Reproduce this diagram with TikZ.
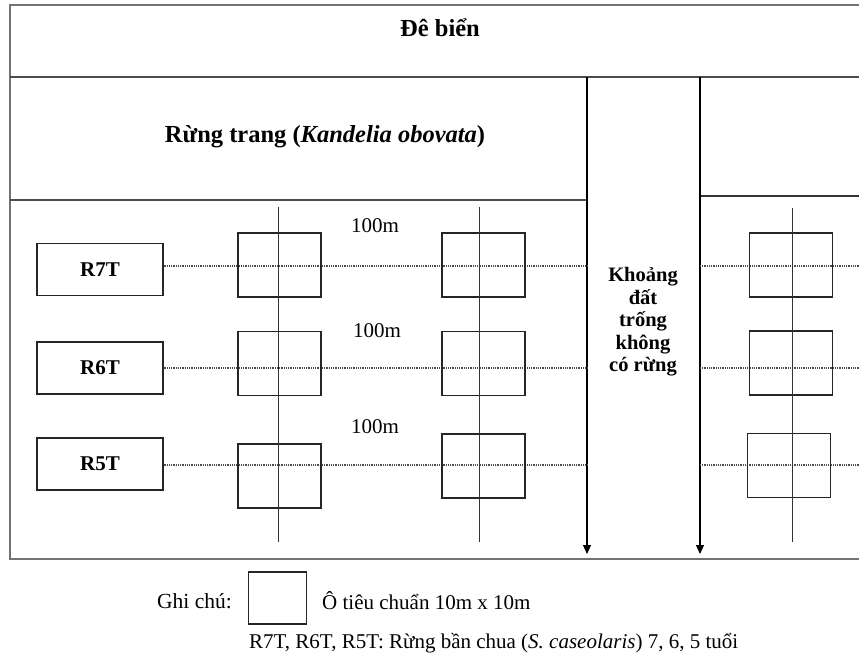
\documentclass[tikz,border=0pt]{standalone}
\usepackage{fontspec}
\setmainfont{Liberation Serif}
\usetikzlibrary{arrows.meta}
\tikzset{
  frameline/.style={draw=black!55, line width=1.6pt},
  thickline/.style={draw=black!70, line width=2.6pt},
  thinline/.style={draw=black!80, line width=1.2pt},
  gridline/.style={draw=black!80, line width=1pt},
  dotline/.style={draw=black!70, line width=1.1pt, dash pattern=on 1pt off 0.8pt},
  plot/.style={draw=black!85, line width=1.3pt, minimum width=83pt, minimum height=64pt, inner sep=0pt},
  rbox/.style={draw=black!85, line width=1.2pt, minimum width=126pt, minimum height=52pt, inner sep=0pt, font=\fontsize{21}{24}\selectfont\bfseries},
  lbl/.style={font=\fontsize{21}{24}\selectfont, inner sep=0pt},
  arr/.style={draw=black, line width=1.1pt, -{Triangle[width=8pt,length=9pt]}}
}
\begin{document}
\begin{tikzpicture}[x=1pt,y=-1pt]
\useasboundingbox (0,0) rectangle (859,661);
% frame
\coordinate (fTL) at (10,5);
\coordinate (fTR) at (859,5);
\coordinate (fBL) at (10,559);
\coordinate (fBR) at (859,559);
\draw[frameline] (fTR) -- (fTL) -- (fBL) -- (fBR);
% thick separators
\coordinate (s1L) at (10,77);
\coordinate (s1R) at (859,77);
\draw[thickline] (s1L) -- (s1R);
\coordinate (s2L) at (10,200);
\coordinate (s2R) at (587,200);
\draw[thickline] (s2L) -- (s2R);
\coordinate (s3L) at (700,196);
\coordinate (s3R) at (859,196);
\draw[thinline] (s3L) -- (s3R);
% titles
\node[font=\fontsize{24.5}{28}\selectfont\bfseries] (debien) at (440,28) {Đê biển};
\node[font=\fontsize{24.5}{28}\selectfont\bfseries] (rtrang) at (325,137) {Rừng trang (\textit{Kandelia obovata})};
% arrows
\coordinate (a1s) at (587,77);
\coordinate (a1e) at (587,554);
\coordinate (a2s) at (700,77);
\coordinate (a2e) at (700,554);
\draw[arr] (a1s) -- (a1e);
\draw[arr] (a2s) -- (a2e);
\node[font=\fontsize{20.5}{22.5}\selectfont\bfseries, align=center] (gap) at (643,322) {Khoảng\\đất\\trống\\không\\có rừng};
% vertical grid lines
\coordinate (v1t) at (278,207); \coordinate (v1b) at (278,542);
\coordinate (v2t) at (479,207); \coordinate (v2b) at (479,542);
\coordinate (v3t) at (792,208); \coordinate (v3b) at (792,542);
% row boxes
\node[rbox] (r7) at (100,269.5) {R7T};
\node[rbox] (r6) at (100,368) {R6T};
\node[rbox] (r5) at (100,464) {R5T};
% dotted lines
\coordinate (d7a) at (587,266); \coordinate (d7b) at (700,266); \coordinate (d7c) at (859,266);
\coordinate (d6a) at (587,368); \coordinate (d6b) at (700,368); \coordinate (d6c) at (859,368);
\coordinate (d5a) at (587,465); \coordinate (d5b) at (700,465); \coordinate (d5c) at (859,465);
\draw[dotline] (r7.east |- d7a) -- (d7a);
\draw[dotline] (r6.east |- d6a) -- (d6a);
\draw[dotline] (r5.east |- d5a) -- (d5a);
\draw[dotline] (d7b) -- (d7c);
\draw[dotline] (d6b) -- (d6c);
\draw[dotline] (d5b) -- (d5c);
% plots
\node[plot] (p71) at (279.5,265) {};
\node[plot] (p72) at (483.5,265) {};
\node[plot] (p73) at (791,265) {};
\node[plot] (p61) at (279.5,363.5) {};
\node[plot] (p62) at (483.5,363.5) {};
\node[plot] (p63) at (791,363) {};
\node[plot] (p51) at (279.5,476) {};
\node[plot] (p52) at (483.5,466) {};
\node[plot] (p53) at (789,465.5) {};
\draw[gridline] (v1t) -- (v1b);
\draw[gridline] (v2t) -- (v2b);
\draw[gridline] (v3t) -- (v3b);
% distance labels
\node[lbl] (m7) at (375,226) {100m};
\node[lbl] (m6) at (377,331) {100m};
\node[lbl] (m5) at (375,427) {100m};
% legend
\node[draw=black!85, line width=1.2pt, minimum width=58pt, minimum height=52pt, inner sep=0pt] (lsq) at (277.5,598) {};
\node[font=\fontsize{21.5}{24}\selectfont, inner sep=0pt, anchor=east] (ghichu) at (232,601) {Ghi chú:};
\node[lbl, anchor=west] (otc) at (322,601) {Ô tiêu chuẩn 10m x 10m};
\node[lbl, anchor=west] (note) at (249,643) {R7T, R6T, R5T: Rừng bần chua (\textit{S. caseolaris}) 7, 6, 5 tuổi};
\end{tikzpicture}
\end{document}
